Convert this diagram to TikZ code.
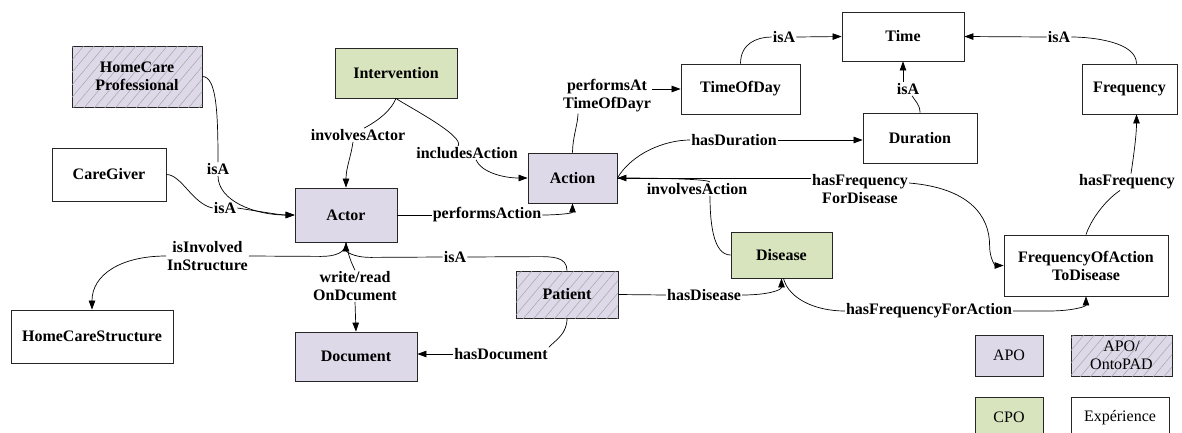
\documentclass[tikz,border=0pt]{standalone}
\usepackage{fontspec}
\setmainfont{Liberation Serif}
\usetikzlibrary{arrows.meta,patterns.meta,calc}
\definecolor{lav}{RGB}{221,217,232}
\definecolor{grn}{RGB}{215,228,189}
\begin{document}
\begin{tikzpicture}[x=1pt,y=-1pt,
  box/.style={draw=black!85, line width=0.8pt, inner sep=0pt, align=center, font=\bfseries\fontsize{16}{18}\selectfont},
  apo/.style={box, fill=lav},
  cpo/.style={box, fill=grn},
  expnode/.style={box, fill=white},
  hatch/.style={box, fill=lav, postaction={pattern={Lines[angle=50,distance=8pt,line width=0.5pt]}, pattern color=black!35}},
  lbl/.style={inner sep=1pt, align=center, font=\bfseries\fontsize{16}{18}\selectfont},
  edge/.style={draw=black, line width=0.7pt},
  arr/.style={edge, -{Triangle[length=9pt,width=6.5pt]}},
  leg/.style={font=\fontsize{16}{18}\selectfont}
]
\useasboundingbox (0,0) rectangle (1182,432);

% nodes
\node[hatch, minimum width=130pt, minimum height=61pt] (HCP) at (137,76.5) {HomeCare\\Professional};
\node[cpo, minimum width=122pt, minimum height=50pt] (Int) at (396,73) {Intervention};
\node[expnode, minimum width=114pt, minimum height=53pt] (CG) at (109,174.5) {CareGiver};
\node[apo, minimum width=102pt, minimum height=54pt] (Actor) at (346,215) {Actor};
\node[apo, minimum width=89pt, minimum height=50pt] (Action) at (572.5,178) {Action};
\node[expnode, minimum width=119pt, minimum height=50pt] (TimeOfDay) at (740.5,89) {TimeOfDay};
\node[expnode, minimum width=122pt, minimum height=49pt] (Time) at (903,36.5) {Time};
\node[expnode, minimum width=114pt, minimum height=50pt] (Duration) at (920,138) {Duration};
\node[expnode, minimum width=95pt, minimum height=50pt] (Frequency) at (1129.5,89) {Frequency};
\node[cpo, minimum width=101pt, minimum height=46pt] (Disease) at (781.5,255) {Disease};
\node[expnode, minimum width=164pt, minimum height=61pt] (FoATD) at (1086,265.5) {FrequencyOfAction\\ToDisease};
\node[expnode, minimum width=162pt, minimum height=53pt] (HCS) at (92,336.5) {HomeCareStructure};
\node[hatch, minimum width=102pt, minimum height=47pt] (Patient) at (567,294.5) {Patient};
\node[apo, minimum width=122pt, minimum height=49pt] (Document) at (356,356.5) {Document};

% legend
\node[apo, leg, minimum width=68pt, minimum height=41pt] (legAPO) at (1009,355.5) {APO};
\node[hatch, leg, minimum width=101pt, minimum height=41pt] (legAO) at (1121.5,355.5) {APO/\\OntoPAD};
\node[cpo, leg, minimum width=68pt, minimum height=41pt] (legCPO) at (1009,417.5) {CPO};
\node[expnode, leg, minimum width=98pt, minimum height=41pt] (legExp) at (1120,417.5) {Expérience};

% labels
\node[lbl] (lisa1) at (218,169) {isA};
\node[lbl] (lisa2) at (225,208) {isA};
\node[lbl] (linvAct) at (358,135) {involvesActor};
\node[lbl] (linclAct) at (467,153) {includesAction};
\node[lbl] (lperfAct) at (487,215) {performsAction};
\node[lbl] (lperfAt) at (607,96) {performsAt\\TimeOfDayr};
\node[lbl] (lisa3) at (784,37) {isA};
\node[lbl] (lisa4) at (908,89) {isA};
\node[lbl] (lisa5) at (1059,37) {isA};
\node[lbl] (lhasDur) at (734,140) {hasDuration};
\node[lbl] (linvAction) at (697,189) {involvesAction};
\node[lbl] (lhasFreqDis) at (860,189) {hasFrequency\\ForDisease};
\node[lbl] (lhasFreq) at (1127,182) {hasFrequency};
\node[lbl] (lhasFreqAct) at (929,311) {hasFrequencyForAction};
\node[lbl] (lhasDis) at (704,295) {hasDisease};
\node[lbl] (lisa6) at (455,257) {isA};
\node[lbl] (linvStr) at (207.5,256) {isInvolved\\InStructure};
\node[lbl] (lwr) at (355,286) {write/read\\OnDcument};
\node[lbl] (lhasDoc) at (501,354) {hasDocument};

% edges
% HCP -> Actor
\draw[edge] (HCP.east) .. controls +(14,0) and +(0,-50) .. (lisa1.north);
\draw[arr] (lisa1.south) .. controls +(0,25) and +(-40,0) .. (Actor.west);
% CareGiver -> Actor
\draw[edge] (CG.east) .. controls +(15,0) and +(-20,-4) .. (lisa2.west);
\draw[arr] (lisa2.east) .. controls +(20,3) and +(-15,0) .. (Actor.west);
% Intervention -> Actor
\draw[edge] (Int.south) .. controls +(-5,12) and +(15,-8) .. ($(linvAct.north)+(6,0)$);
\draw[arr] ($(linvAct.south)+(-5,0)$) .. controls +(-2,15) and +(0,-20) .. (Actor.north);
% Intervention -> Action
\draw[edge] (Int.south) .. controls +(8,6) and +(8,-10) .. ($(linclAct.north)+(-9,0)$);
\draw[arr] ($(linclAct.south)+(9,0)$) .. controls +(5,12) and +(-25,0) .. (Action.west);
% Actor -> Action
\draw[edge] (Actor.east) -- (lperfAct.west);
\draw[arr] (lperfAct.east) .. controls +(15,0) and +(0,10) .. (Action.south);
% Action -> TimeOfDay
\draw[edge] (Action.north) .. controls +(0,-15) and +(0,10) .. ($(lperfAt.south)+(-29,0)$);
\draw[arr] (lperfAt.east |- TimeOfDay.west) -- (TimeOfDay.west);
% TimeOfDay -> Time
\draw[edge] (TimeOfDay.north) .. controls +(0,-20) and +(-15,0) .. (lisa3.west);
\draw[arr] (lisa3.east) -- (Time.west);
% Duration -> Time
\draw[edge] (Duration.north) .. controls +(0,-8) and +(3,5) .. ($(lisa4.south)+(4,0)$);
\draw[arr] (Time.south |- lisa4.north) -- (Time.south);
% Frequency -> Time
\draw[edge] ($(Frequency.north)+(7,0)$) .. controls +(0,-22) and +(20,0) .. (lisa5.east);
\draw[arr] (lisa5.west) -- (Time.east);
% Action -> Duration
\draw[edge] (Action.east) .. controls +(15,-25) and +(-25,0) .. (lhasDur.west);
\draw[arr] (lhasDur.east) -- (Duration.west |- lhasDur.east);
% Disease -> Action
\draw[edge] (Disease.west) .. controls +(-18,0) and +(0,25) .. ($(linvAction.south)+(13,0)$);
\draw[arr] ($(linvAction.north)+(13,0)$) .. controls +(0,-4) and +(10,0) .. (Action.east);
% Action -> FrequencyOfActionToDisease
\draw[edge] (Action.east) -- (lhasFreqDis.west |- Action.east);
\draw[arr] ($(lhasFreqDis.east)+(0,-6)$) .. controls +(60,5) and +(0,-30) .. ($(FoATD.west)+(-14,-20)$) .. controls +(0,14) and +(-8,0) .. (FoATD.west);
% FrequencyOfActionToDisease -> Frequency
\draw[edge] (FoATD.north) .. controls +(5,-15) and +(-15,10) .. ($(lhasFreq.south)+(-7,0)$);
\draw[arr] ($(lhasFreq.north)+(4,0)$) .. controls +(3,-20) and +(0,20) .. ($(Frequency.south)+(7,0)$);
% Disease -> FrequencyOfActionToDisease
\draw[edge] ($(Disease.south)+(2,0)$) .. controls +(5,20) and +(-30,0) .. (lhasFreqAct.west);
\draw[arr] (lhasFreqAct.east) -- +(35,0) .. controls +(25,0) and +(0,10) .. (FoATD.south);
% Patient -> Disease
\draw[edge] (Patient.east) -- (lhasDis.west);
\draw[arr] (lhasDis.east) .. controls +(25,0) and +(0,12) .. (Disease.south);
% Patient -> Actor
\draw[edge] (Patient.north) .. controls +(0,-14) and +(15,0) .. ++(-30,-14) -- (lisa6.east);
\draw[arr] (lisa6.west) -- ($(Actor.south)+(25,15)$) .. controls +(-20,0) and +(0,8) .. (Actor.south);
% Actor -> HomeCareStructure
\draw[edge] (Actor.south) .. controls +(0,10) and +(15,0) .. ($(Actor.south)+(-25,14)$) -- (linvStr.east);
\draw[arr] (linvStr.west) .. controls +(-45,0) and +(0,-35) .. (HCS.north);
% Actor -> Document
\draw[edge] (Actor.south) .. controls +(2,12) and +(-4,-8) .. (lwr.north);
\draw[arr] (lwr.south) -- (Document.north);
% Patient -> Document
\draw[edge] (Patient.south) .. controls +(0,15) and +(8,-8) .. (lhasDoc.north east);
\draw[arr] (lhasDoc.west) -- (Document.east |- lhasDoc.west);
\end{tikzpicture}
\end{document}
